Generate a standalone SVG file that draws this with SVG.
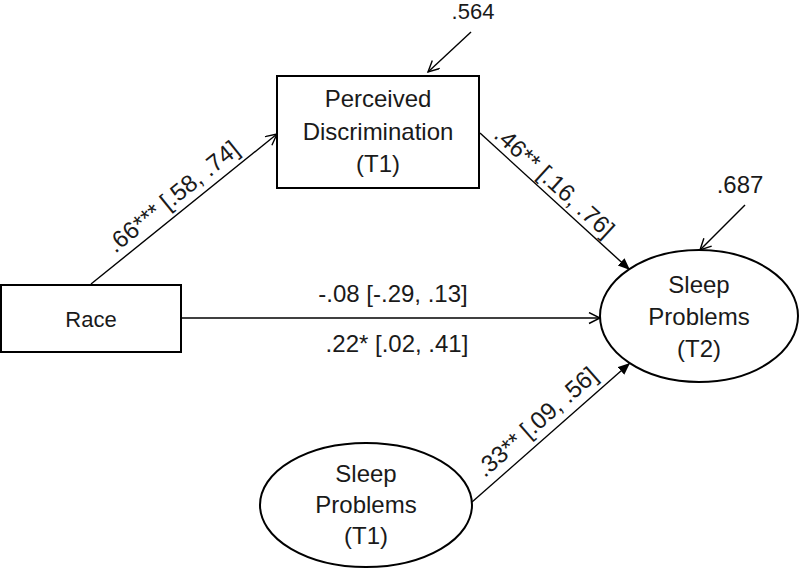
<svg xmlns="http://www.w3.org/2000/svg" width="800" height="568" viewBox="0 0 800 568">
<style>
text{font-family:"Liberation Sans",Arial,sans-serif;fill:#1a1a1a}
.n{font-size:24px;text-anchor:middle}
.l{font-size:24px;text-anchor:middle}
.shape{fill:#fff;stroke:#000;stroke-width:2}
.c{stroke:#000;stroke-width:1.4;fill:none}
</style>
<defs>
<marker id="open" markerWidth="14" markerHeight="14" refX="12" refY="6" orient="auto" markerUnits="userSpaceOnUse">
<path d="M1,0.5 L12,6 L1,11.5" fill="none" stroke="#000" stroke-width="1.4"/>
</marker>
<marker id="fill" markerWidth="14" markerHeight="14" refX="12" refY="5" orient="auto" markerUnits="userSpaceOnUse">
<path d="M0,0 L12,5 L0,10 Z" fill="#000"/>
</marker>
</defs>
<g id="connectors">
<line class="c" x1="91" y1="284" x2="277" y2="134" marker-end="url(#open)"/>
<line class="c" x1="480" y1="133" x2="630" y2="270" marker-end="url(#fill)"/>
<line class="c" x1="181" y1="318" x2="600" y2="318" marker-end="url(#open)"/>
<line class="c" x1="472" y1="502" x2="630" y2="363" marker-end="url(#fill)"/>
<line class="c" x1="471" y1="32" x2="428" y2="72" marker-end="url(#open)"/>
<line class="c" x1="745" y1="205" x2="700" y2="250" marker-end="url(#open)"/>
<text class="l" transform="translate(178,203) rotate(-38.9)">.66*** [.58, .74]</text>
<text class="l" transform="translate(549,188) rotate(42.4)">.46** [.16, .76]</text>
<text class="l" transform="translate(542,428) rotate(-41.3)">.33** [.09, .56]</text>
<text class="l" x="393" y="302">-.08 [-.29, .13]</text>
<text class="l" x="397" y="352">.22* [.02, .41]</text>
<text class="l" x="473" y="19" style="font-size:22px">.564</text>
<text class="l" x="740" y="193">.687</text>
</g>
<g id="race">
<rect class="shape" x="1" y="285" width="180" height="67"/>
<text class="n" x="91" y="327" style="font-size:22px">Race</text>
</g>
<g id="perceived-discrimination">
<rect class="shape" x="277" y="76" width="202" height="112"/>
<text class="n" x="378" y="107">Perceived</text>
<text class="n" x="378" y="140">Discrimination</text>
<text class="n" x="378" y="172">(T1)</text>
</g>
<g id="sleep-t2">
<ellipse class="shape" cx="699" cy="316" rx="99" ry="66"/>
<text class="n" x="699" y="293">Sleep</text>
<text class="n" x="699" y="325">Problems</text>
<text class="n" x="699" y="357">(T2)</text>
</g>
<g id="sleep-t1">
<ellipse class="shape" cx="366" cy="505" rx="106" ry="62"/>
<text class="n" x="366" y="482">Sleep</text>
<text class="n" x="366" y="513">Problems</text>
<text class="n" x="366" y="544">(T1)</text>
</g>
</svg>
